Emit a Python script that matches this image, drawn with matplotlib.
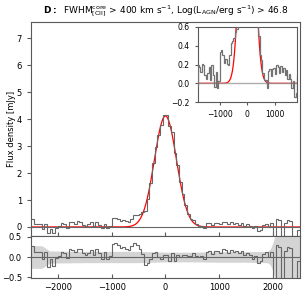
import numpy as np
import matplotlib
matplotlib.use("Agg")
import matplotlib.pyplot as plt


# channel width [km/s] and centres of the stacked [CII] spectrum
CHAN = 50.0
vel = np.arange(-2475.0, 2476.0, CHAN)

# stacked flux density [mJy], one value per channel
flux = [
    0.28, 0.12, 0.12, 0.12, -0.06, 0.12, -0.24, -0.06, -0.22, -0.02,
    0.02, 0.13, 0.10, -0.03, 0.19, 0.17, 0.12, 0.21, 0.20, 0.09,
    0.05, 0.11, 0.17, 0.04, 0.20, 0.09, -0.04, 0.12, -0.05, 0.02,
    0.33, 0.35, 0.30, 0.22, 0.26, 0.21, 0.20, 0.30, 0.43, 0.45,
    0.48, 0.55, 0.58, 1.02, 1.62, 2.36, 2.98, 3.42, 3.80, 4.14,
    4.14, 3.75, 3.52, 2.76, 2.31, 1.68, 1.22, 0.82, 0.50, 0.30,
    0.25, 0.11, 0.04, 0.04, -0.05, 0.13, 0.15, 0.08, 0.15, 0.16,
    0.10, 0.20, 0.17, 0.11, 0.18, 0.12, 0.16, 0.09, 0.14, 0.05,
    0.10, 0.05, -0.05, 0.02, -0.15, -0.10, 0.08, 0.12, 0.00, 0.13,
    -0.70, 0.30, 0.25, -0.70, 0.15, 0.25, 0.22, -0.70, -0.70, -0.11,
]

# gaussian fit of the line
AMP = 4.12
CEN = 0.0
SIG = 205.0

# 1-sigma noise of the stack
noise_v = [-2500, -2300, -2250, -2150, -1500, -1000, -500, 0, 500, 1000, 1500, 1900, 1950, 2000, 2050, 2500]
noise_s = [0.28, 0.28, 0.24, 0.15, 0.14, 0.14, 0.14, 0.12, 0.12, 0.13, 0.13, 0.14, 0.20, 0.36, 0.60, 0.60]

TITLE = (r"$\mathbf{D:}$  FWHM$^{\rm core}_{\rm [CII]}$ > 400 km s$^{-1}$, "
         r"Log(L$_{\rm AGN}$/erg s$^{-1}$) > 46.8")


def gauss(x):
    return AMP * np.exp(-(x - CEN)**2 / (2 * SIG**2))


flux = np.asarray(flux)
edges = np.concatenate([vel - CHAN / 2, [vel[-1] + CHAN / 2]])
resid = flux - gauss(vel)
vfine = np.linspace(-2500, 2500, 1000)

plt.rcParams['font.size'] = 6
plt.rcParams['axes.edgecolor'] = '0.35'
plt.rcParams['xtick.color'] = '0.35'
plt.rcParams['ytick.color'] = '0.35'
plt.rcParams['xtick.labelcolor'] = 'black'
plt.rcParams['ytick.labelcolor'] = 'black'

fig = plt.figure(figsize=(3.03, 3.03), dpi=100)
ax = fig.add_axes([0.102, 0.2224, 0.888, 0.7046])
axr = fig.add_axes([0.102, 0.0825, 0.888, 0.1399], sharex=ax)
axi = fig.add_axes([0.652, 0.663, 0.328, 0.248])

# main spectrum
ax.plot(vfine, gauss(vfine), color='red', lw=0.9, zorder=2)
ax.stairs(flux, edges, baseline=None, color='0.4', lw=0.8, zorder=3)
ax.axhline(0, color='0.4', lw=0.8, zorder=4)
ax.set_xlim(-2500, 2500)
ax.set_ylim(-0.32, 7.6)
ax.set_yticks(range(0, 8))
ax.set_ylabel('Flux density [mJy]', fontsize=6, labelpad=0.5)
ax.tick_params(axis='x', direction='in', labelbottom=False, length=3)
ax.tick_params(axis='y', length=3)
ax.set_title(TITLE, fontsize=6.5, pad=6)

# residuals
axr.fill_between(noise_v, -np.asarray(noise_s), noise_s, color='0.83', lw=0, zorder=1)
axr.stairs(resid, edges, baseline=None, color='0.4', lw=0.8, zorder=3)
axr.axhline(0, color='0.4', lw=0.8, zorder=4)
axr.set_ylim(-0.52, 0.53)
axr.set_yticks([-0.5, 0.0, 0.5])
axr.set_xticks([-2000, -1000, 0, 1000, 2000])
axr.tick_params(axis='x', direction='in', length=3)
axr.tick_params(axis='y', length=3)

# zoom on the continuum
axi.plot(vfine, gauss(vfine), color='red', lw=0.9, zorder=2)
axi.axhline(0, color='0.6', lw=1.0, alpha=0.8, zorder=3)
axi.stairs(flux, edges, baseline=None, color='0.45', lw=0.9, zorder=4)
axi.set_xlim(-1800, 1800)
axi.set_ylim(-0.2, 0.6)
axi.set_yticks([-0.2, 0.0, 0.2, 0.4, 0.6])
axi.set_xticks([-1000, 0, 1000])
axi.tick_params(labelsize=5.5, length=2.5)

fig.savefig('out.png', dpi=100)
